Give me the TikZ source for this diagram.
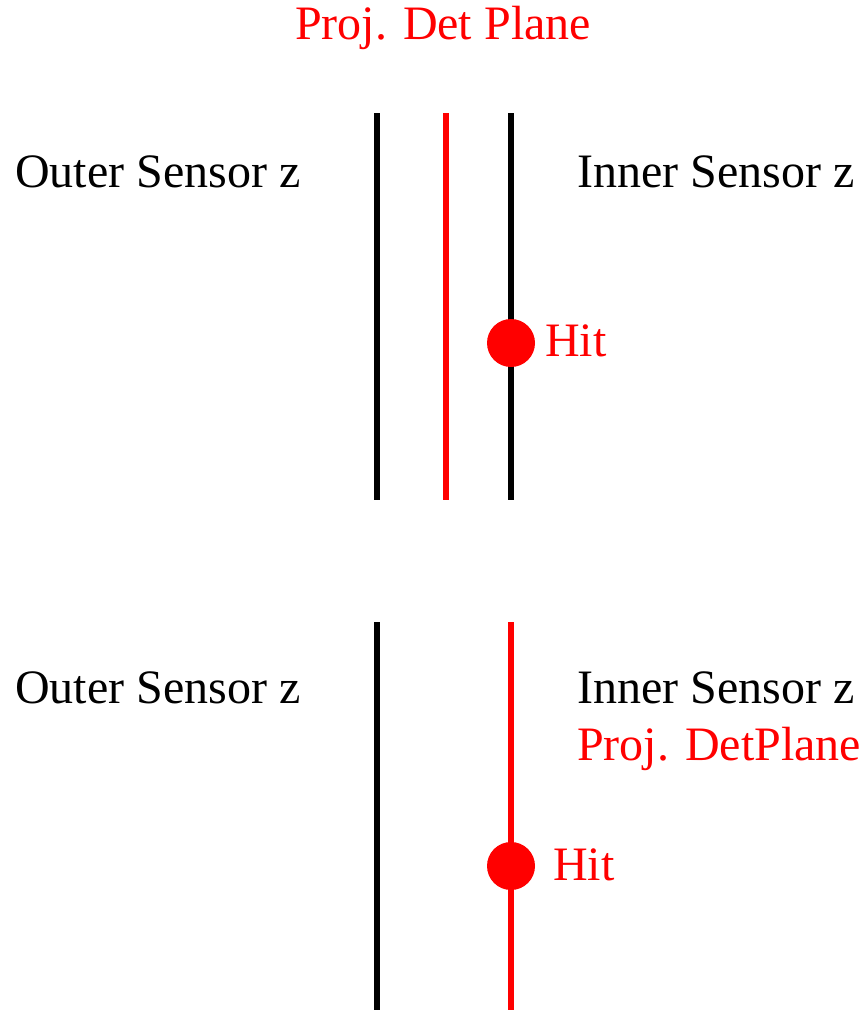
\documentclass[tikz,border=0pt]{standalone}
\usepackage{fontspec}
\setmainfont{Liberation Serif}
\newfontfamily\timesfont{Liberation Serif}
\usetikzlibrary{calc}
\tikzset{
    sensor/.style = {line width=3.8pt,
                    draw=black},
    detplane/.style = {line width=3.8pt,
                    draw=red},
    hit/.style =    {circle,
                    fill=red,
                    draw=none,
                    inner sep=0pt,
                    minimum size=36pt},
    lbl/.style =    {inner sep=0pt,
                    text=black,
                    font=\timesfont\fontsize{36}{43}\selectfont},
    redlbl/.style = {lbl,
                    text=red}}

\begin{document}
\begin{tikzpicture}[x=0.75pt,y=-0.75pt]
                \useasboundingbox (0,0) rectangle (863,1011);
                % upper panel
                \coordinate (OT1) at (377,113);
                \coordinate (OB1) at (377,500);
                \coordinate (PT1) at (446,113);
                \coordinate (PB1) at (446,500);
                \coordinate (IT1) at (511,113);
                \coordinate (IB1) at (511,500);
                \draw[sensor]   (OT1) -- (OB1);
                \draw[detplane] (PT1) -- (PB1);
                \draw[sensor]   (IT1) -- (IB1);
                \node[hit]      (H1) at (511,343) {};
                \node[redlbl, anchor=base west] (H1l) at (545,356) {Hit};
                \node[redlbl, anchor=base] (P1l) at (443,39) {Proj. Det Plane};
                \node[lbl, anchor=base west] (O1l) at (15,187) {Outer Sensor z};
                \node[lbl, anchor=base west] (I1l) at (577,187) {Inner Sensor z};
                % lower panel
                \coordinate (OT2) at (377,622);
                \coordinate (OB2) at (377,1010);
                \coordinate (IT2) at (511,622);
                \coordinate (IB2) at (511,1010);
                \draw[sensor]   (OT2) -- (OB2);
                \draw[detplane] (IT2) -- (IB2);
                \node[hit]      (H2) at (511,866) {};
                \node[redlbl, anchor=base west] (H2l) at (553,880) {Hit};
                \node[lbl, anchor=base west] (O2l) at (15,703) {Outer Sensor z};
                \node[lbl, anchor=base west] (I2l) at (577,703) {Inner Sensor z};
                \node[redlbl, anchor=base west] (P2l) at (577,760) {Proj. DetPlane};
        \end{tikzpicture}
\end{document}
